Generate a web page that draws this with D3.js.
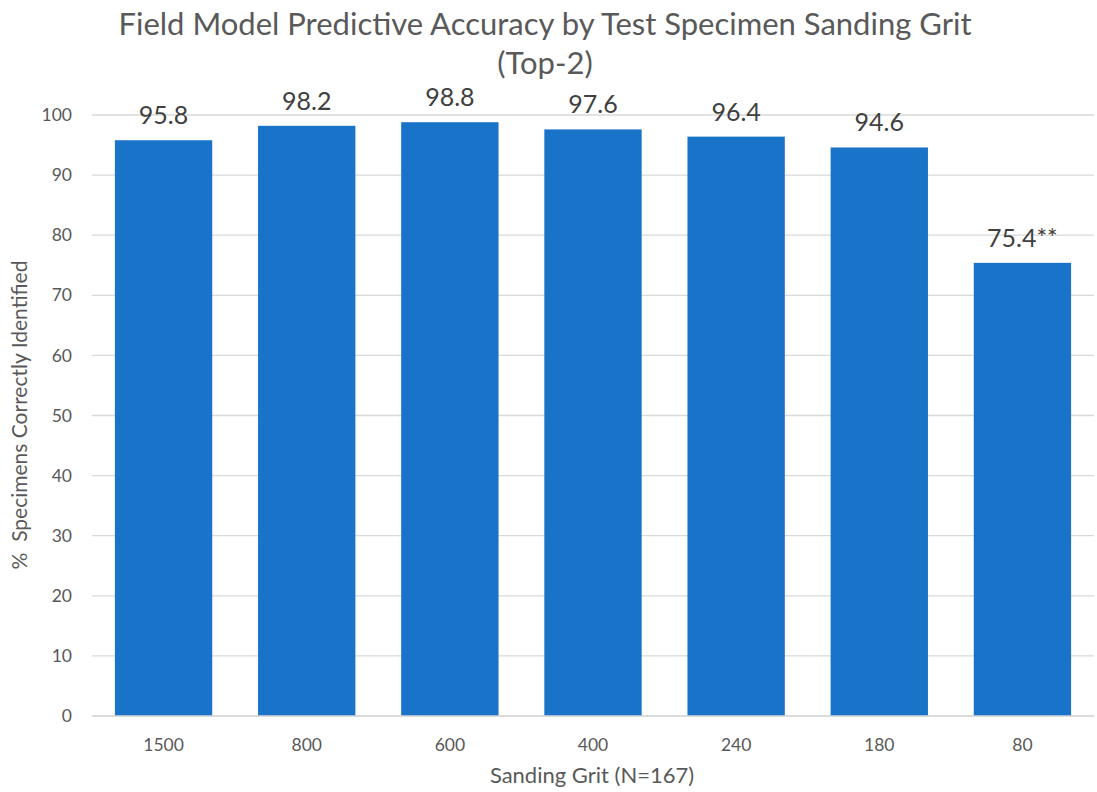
<!DOCTYPE html>
<html>
<head>
<meta charset="utf-8">
<script src="https://cdn.jsdelivr.net/npm/d3@7"></script>
<style>
  html, body { margin: 0; padding: 0; background: #fff; }
  svg { display: block; font-family: Lato, "Open Sans", sans-serif; }
</style>
</head>
<body>
<svg id="chart" width="1097" height="792"></svg>
<script>
// Sanding grits and accuracy (% correctly identified, top-2)
const grits = ["1500", "800", "600", "400", "240", "180", "80"];
const accuracy = [95.8, 98.2, 98.8, 97.6, 96.4, 94.6, 75.4];
const labelSuffix = ["", "", "", "", "", "", "**"];
const yTicks = [0, 10, 20, 30, 40, 50, 60, 70, 80, 90, 100];

const svg = d3.select("#chart");
const margin = { left: 92, right: 3, top: 115, bottom: 76 };
const W = 1097, H = 792;

const x = d3.scaleBand()
  .domain(grits)
  .range([margin.left, W - margin.right])
  .paddingInner(0.32)
  .paddingOuter(0.16);

const y = d3.scaleLinear()
  .domain([0, 100])
  .range([H - margin.bottom, margin.top]);

// Horizontal gridlines
svg.append("g")
  .selectAll("line")
  .data(yTicks)
  .join("line")
  .attr("x1", margin.left)
  .attr("x2", W - margin.right)
  .attr("y1", d => y(d))
  .attr("y2", d => y(d))
  .attr("stroke", "#d9d9d9")
  .attr("stroke-width", 1.3);

// Y tick labels
const yAxis = d3.axisLeft(y).tickValues(yTicks).tickSize(0).tickPadding(0);
svg.append("g")
  .attr("transform", `translate(${margin.left - 20},0)`)
  .call(yAxis)
  .call(g => g.select(".domain").remove())
  .selectAll("text")
  .attr("font-size", 17.5)
  .attr("font-family", "Lato, 'Open Sans', sans-serif")
  .attr("fill", "#595959");

// Bars
svg.append("g")
  .selectAll("rect")
  .data(accuracy)
  .join("rect")
  .attr("x", (d, i) => x(grits[i]))
  .attr("width", x.bandwidth())
  .attr("y", d => y(d))
  .attr("height", d => y(0) - y(d))
  .attr("fill", "#1873c9");

// Value labels
svg.append("g")
  .selectAll("text")
  .data(accuracy)
  .join("text")
  .attr("x", (d, i) => x(grits[i]) + x.bandwidth() / 2)
  .attr("y", d => y(d) - 16)
  .attr("text-anchor", "middle")
  .attr("font-size", 25)
  .attr("fill", "#404040")
  .text((d, i) => d.toFixed(1) + labelSuffix[i]);

// X axis baseline
svg.append("line")
  .attr("x1", margin.left)
  .attr("x2", W - margin.right)
  .attr("y1", y(0))
  .attr("y2", y(0))
  .attr("stroke", "#d9d9d9")
  .attr("stroke-width", 1.5);

// X tick labels
const xAxis = d3.axisBottom(x).tickSize(0).tickPadding(0);
svg.append("g")
  .attr("transform", `translate(0,${y(0) + 35})`)
  .call(xAxis)
  .call(g => g.select(".domain").remove())
  .selectAll("text")
  .attr("dy", 0)
  .attr("font-size", 17.5)
  .attr("font-family", "Lato, 'Open Sans', sans-serif")
  .attr("fill", "#595959");

// Axis titles
svg.append("text")
  .attr("x", 592)
  .attr("y", 783)
  .attr("text-anchor", "middle")
  .attr("font-size", 22)
  .attr("fill", "#595959")
  .text("Sanding Grit (N=167)");

svg.append("text")
  .attr("transform", "translate(27,415) rotate(-90)")
  .attr("text-anchor", "middle")
  .attr("font-size", 21)
  .attr("fill", "#595959")
  .style("white-space", "pre")
  .text("%  Specimens Correctly Identified");

// Chart title
const title = svg.append("text")
  .attr("text-anchor", "middle")
  .attr("font-size", 31)
  .attr("fill", "#595959");
title.append("tspan").attr("x", 545).attr("y", 35)
  .text("Field Model Predictive Accuracy by Test Specimen Sanding Grit");
title.append("tspan").attr("x", 545).attr("y", 74)
  .text("(Top-2)");
</script>
</body>
</html>
